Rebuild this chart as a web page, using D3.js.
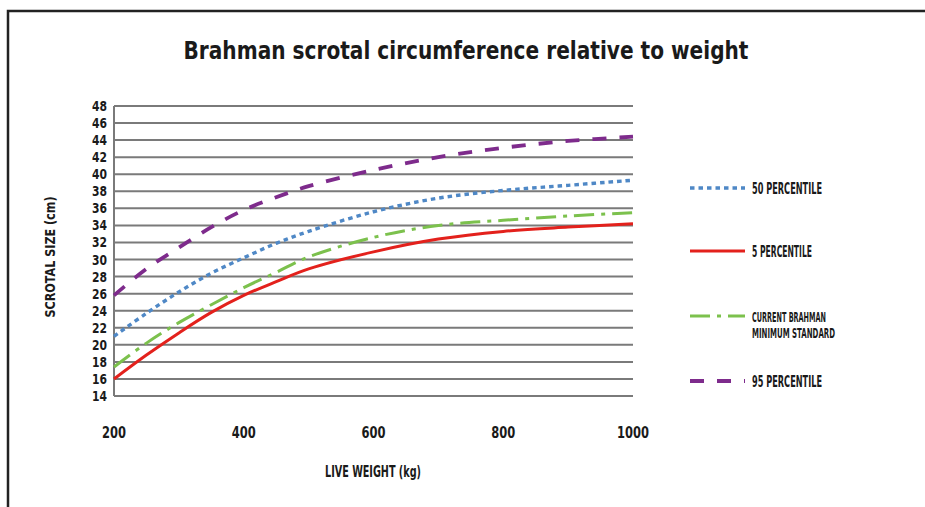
<!DOCTYPE html>
<html>
<head>
<meta charset="utf-8">
<script src="https://cdn.jsdelivr.net/npm/d3@7"></script>
<style>
  body { margin: 0; background: #fff; }
  text { font-family: "Liberation Sans Narrow", "DejaVu Sans Condensed", "Roboto Condensed", sans-serif; font-weight: bold; fill: #1a1a1a; }
</style>
</head>
<body>
<div id="main"></div>
<script>
const ctx = {
    w: 925,
    h: 507,
};

// live weight (kg) at which the curves were read
const weights = [200, 250, 300, 350, 400, 450, 500, 600, 700, 800, 900, 1000];
const p5 = [16.0, 18.8, 21.4, 23.8, 25.8, 27.4, 28.9, 30.9, 32.4, 33.3, 33.8, 34.2];
const minStandard = [17.4, 20.2, 22.6, 24.7, 26.7, 28.5, 30.3, 32.6, 34.0, 34.6, 35.1, 35.5];
const p50 = [21.0, 23.7, 26.2, 28.4, 30.2, 31.9, 33.3, 35.6, 37.2, 38.1, 38.7, 39.3];
const p95 = [25.8, 28.9, 31.4, 33.8, 35.8, 37.3, 38.6, 40.5, 42.0, 43.1, 43.9, 44.4];

const xTicks = [200, 400, 600, 800, 1000];
const yTicks = d3.range(14, 49, 2);

const seriesNames = ["50 PERCENTILE", "5 PERCENTILE", "CURRENT BRAHMAN\nMINIMUM STANDARD", "95 PERCENTILE"];

function createChart(svgEl) {
    var margin = {top: 106, left: 114},
        width = 519,
        height = 290;

    const xScale = d3.scaleLinear().domain([200, 1000]).range([0, width]);
    const yScale = d3.scaleLinear().domain([14, 48]).range([height, 0]);

    // frame round the figure
    svgEl.append("path")
         .attr("d", `M8,${ctx.h} L8,11 L${ctx.w},11`)
         .attr("fill", "none")
         .attr("stroke", "#222")
         .attr("stroke-width", 2.5);

    svgEl.append("text")
         .attr("x", 466)
         .attr("y", 59)
         .attr("text-anchor", "middle")
         .attr("textLength", 565)
         .attr("lengthAdjust", "spacingAndGlyphs")
         .style("font-size", "24px")
         .text("Brahman scrotal circumference relative to weight");

    const g = svgEl.append("g").attr("transform", `translate(${margin.left},${margin.top})`);

    // horizontal gridlines
    g.selectAll(".grid")
     .data(yTicks)
     .enter().append("line")
     .attr("class", "grid")
     .attr("x1", 0)
     .attr("x2", width)
     .attr("y1", d => yScale(d))
     .attr("y2", d => yScale(d))
     .attr("stroke", "#7a7a7a")
     .attr("stroke-width", 2);

    g.append("line")
     .attr("x1", 0).attr("x2", 0)
     .attr("y1", 0).attr("y2", height)
     .attr("stroke", "#7a7a7a")
     .attr("stroke-width", 2);

    // y tick labels
    g.selectAll(".ylab")
     .data(yTicks)
     .enter().append("text")
     .attr("class", "ylab")
     .attr("x", -7)
     .attr("y", d => yScale(d) + 5)
     .attr("text-anchor", "end")
     .attr("textLength", 15)
     .attr("lengthAdjust", "spacingAndGlyphs")
     .style("font-size", "13.5px")
     .text(d => d);

    // x tick labels
    g.selectAll(".xlab")
     .data(xTicks)
     .enter().append("text")
     .attr("class", "xlab")
     .attr("x", d => xScale(d))
     .attr("y", height + 42)
     .attr("text-anchor", "middle")
     .attr("textLength", d => String(d).length * 8)
     .attr("lengthAdjust", "spacingAndGlyphs")
     .style("font-size", "15px")
     .text(d => d);

    svgEl.append("text")
         .attr("x", 373)
         .attr("y", 477)
         .attr("text-anchor", "middle")
         .attr("textLength", 96)
         .attr("lengthAdjust", "spacingAndGlyphs")
         .style("font-size", "15px")
         .text("LIVE WEIGHT (kg)");

    svgEl.append("text")
         .attr("transform", "translate(55,257) rotate(-90)")
         .attr("text-anchor", "middle")
         .attr("textLength", 121)
         .attr("lengthAdjust", "spacingAndGlyphs")
         .style("font-size", "14px")
         .text("SCROTAL SIZE (cm)");

    var series = [
        {name: seriesNames[0], values: p50, color: "#4f88c6", width: 3.4, dash: "4.5,4", legendY: 188, lens: [70]},
        {name: seriesNames[1], values: p5, color: "#e3211c", width: 3, dash: null, legendY: 251, lens: [60]},
        {name: seriesNames[2], values: minStandard, color: "#7cc14d", width: 3, dash: "20,7,4,7", legendY: 316, lens: [74, 83]},
        {name: seriesNames[3], values: p95, color: "#7e2b8c", width: 3.8, dash: "14,13", legendY: 381, lens: [70]}
    ];

    const line = d3.line()
                   .x(d => xScale(d[0]))
                   .y(d => yScale(d[1]))
                   .curve(d3.curveCatmullRom.alpha(0.5));

    // red first so the others sit on top
    [1, 2, 0, 3].forEach(i => {
        var s = series[i];
        g.append("path")
         .datum(weights.map((w, j) => [w, s.values[j]]))
         .attr("d", line)
         .attr("fill", "none")
         .attr("stroke", s.color)
         .attr("stroke-width", s.width)
         .attr("stroke-dasharray", s.dash);
    });

    // legend
    series.forEach(s => {
        var row = svgEl.append("g").attr("transform", `translate(690, ${s.legendY})`);
        row.append("line")
           .attr("x1", 0).attr("x2", 55)
           .attr("stroke", s.color)
           .attr("stroke-width", s.width)
           .attr("stroke-dasharray", s.dash);
        var lines = s.name.split("\n");
        lines.forEach((l, k) => {
            row.append("text")
               .attr("x", 62)
               .attr("y", lines.length > 1 ? 6 + k * 16 : 6)
               .attr("textLength", s.lens[k])
               .attr("lengthAdjust", "spacingAndGlyphs")
               .style("font-size", lines.length > 1 ? "13.5px" : "15px")
               .text(l);
        });
    });
}

function createViz() {
    const svgEl = d3.select("#main").append("svg")
      .attr("width", ctx.w)
      .attr("height", ctx.h);
    createChart(svgEl);
}

createViz();
</script>
</body>
</html>
